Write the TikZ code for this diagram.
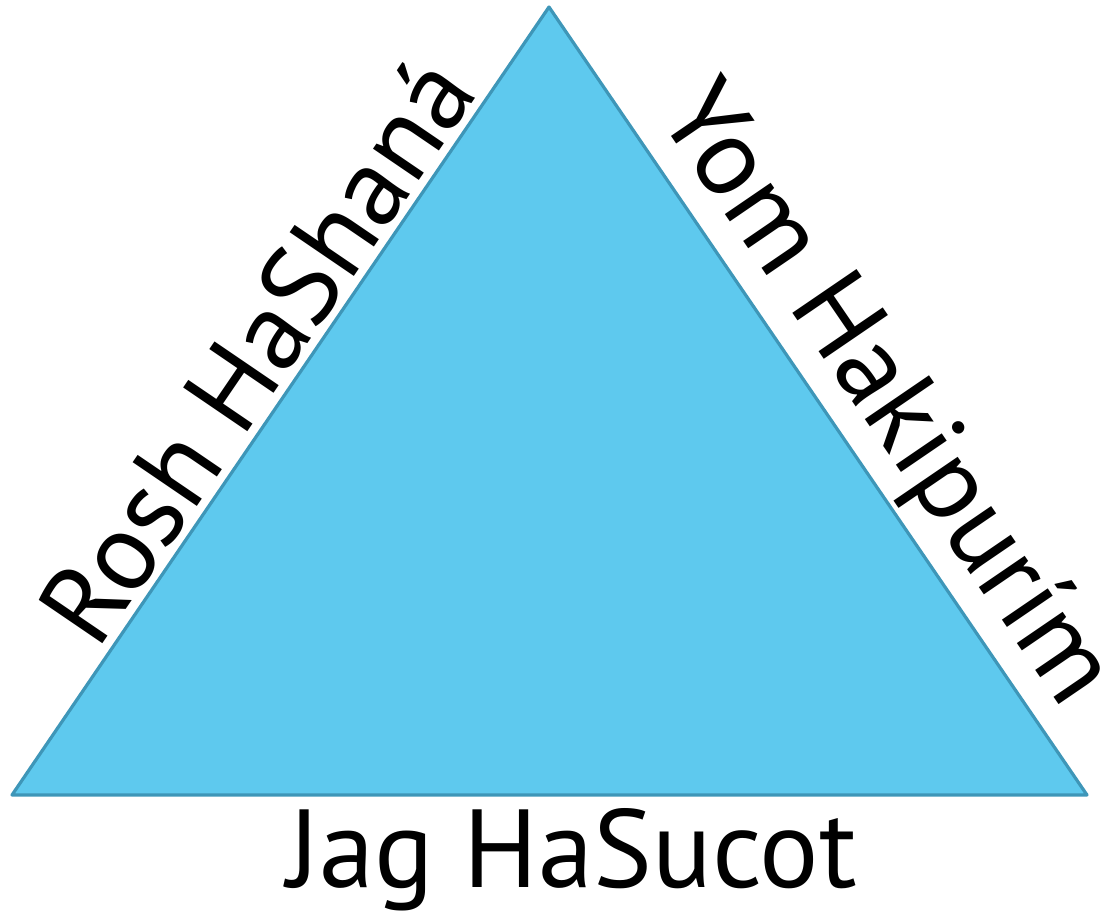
\documentclass[tikz,border=0pt]{standalone}
\usepackage{fontspec}
\setmainfont{PT Sans}
\usepackage{tikz}
\usetikzlibrary{positioning,calc}
\definecolor{trifill}{RGB}{94,201,238}
\definecolor{triedge}{RGB}{62,150,184}

\begin{document}
\begin{tikzpicture}[
  x=1pt,y=1pt,
  tribody/.style={draw=triedge,fill=trifill,line width=3.2pt,line join=round},
  sidelabel/.style={font=\fontsize{111}{113}\selectfont,text=black,inner sep=8pt},
]
\useasboundingbox (0,0) rectangle (1108,913);

% Corners
\coordinate (apex)  at (549,906);
\coordinate (left)  at (12,118);
\coordinate (right) at (1087,118);

% Triangle
\draw[tribody] (left) -- (apex) -- (right) -- cycle;

% Side labels
\path (left) -- node[sidelabel,pos=0.53,sloped,above] (rosh) {Rosh HaShaná} (apex);
\path (apex) -- node[sidelabel,pos=0.535,sloped,above,inner sep=6pt] (yom) {Yom Hakipurím} (right);
\node[sidelabel,anchor=base,inner sep=0pt] (jag) at (572,26) {Jag HaSucot};
\end{tikzpicture}
\end{document}
